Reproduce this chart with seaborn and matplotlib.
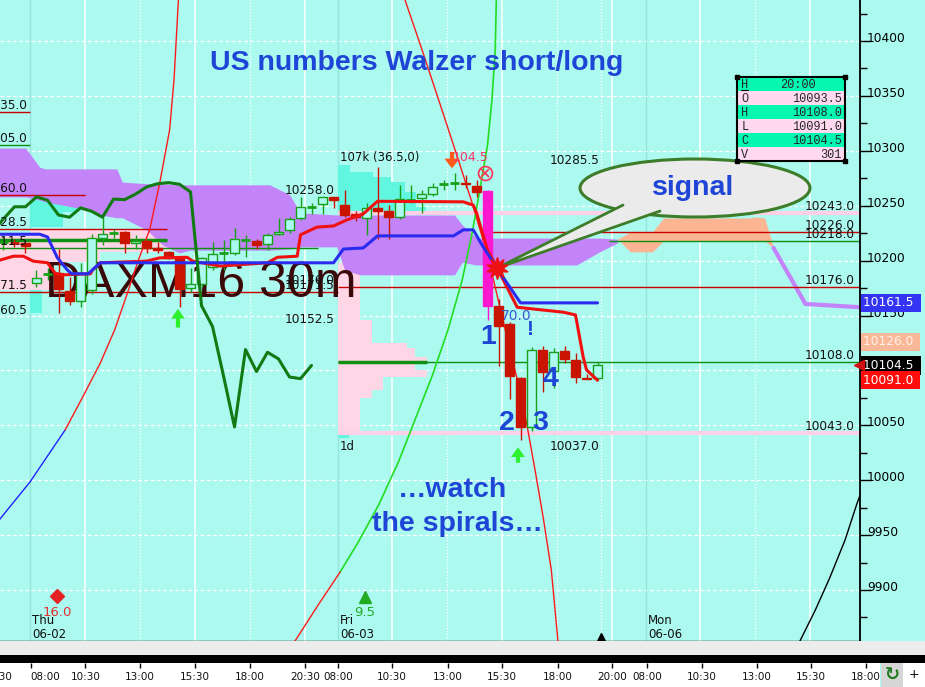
"""DAXM16 30m - Ichimoku + spirals"""

import numpy as np
import pandas as pd
import matplotlib
matplotlib.use('Agg')
import matplotlib.pyplot as plt
import matplotlib.transforms as mtransforms
from matplotlib.patches import Ellipse, Polygon, Rectangle
import seaborn as sns

# ---------------- 数据 ----------------
# 30 分钟 K 线, bar 0 = 周四 08:00, bar 27 = 周五 08:00
bar_idx = np.arange(-3, 52)
opens = [10216, 10216.5, 10216, 10179.5, 10187.5, 10188.5, 10172, 10163.5, 10173, 10220.5,
         10225, 10226, 10216, 10218, 10211.5, 10208, 10203, 10175, 10178.5, 10194,
         10206, 10207, 10218.5, 10218, 10215, 10224, 10228, 10239, 10248.5, 10251.5,
         10258, 10250.5, 10242.5, 10239, 10248, 10245, 10239.5, 10255, 10257, 10260.5,
         10269.5, 10270.5, 10270.5, 10268, 10263.5, 10159, 10142, 10093.5, 10048.5, 10118.5,
         10099.5, 10118, 10109.5, 10093.5, 10093.5]
highs = [10222, 10220, 10218, 10191, 10193, 10211, 10185, 10197.5, 10224, 10239.5,
         10229, 10226.5, 10223, 10218.5, 10217, 10208.5, 10203.5, 10193, 10203.5, 10217,
         10218.5, 10229.5, 10223.5, 10219.5, 10225, 10238.5, 10240, 10258, 10252, 10258,
         10258, 10264, 10245, 10252, 10285.5, 10250.5, 10269, 10269, 10264, 10271,
         10273.5, 10279.5, 10278, 10273.5, 10264, 10165, 10144, 10094, 10121, 10122,
         10120, 10122.5, 10116, 10097, 10108]
lows = [10210, 10212, 10207, 10176, 10182, 10152.5, 10160, 10158, 10170, 10214,
        10221, 10207, 10211, 10206.5, 10206.5, 10201, 10157.5, 10171.5, 10176, 10191.5,
        10191.5, 10205, 10203.5, 10211, 10209.5, 10223, 10225, 10237, 10242.5, 10242.5,
        10247.5, 10240, 10236, 10223.5, 10219.5, 10219.5, 10238, 10252, 10243, 10259,
        10264.5, 10264.5, 10266, 10258, 10146, 10104, 10074, 10037, 10045, 10080.5,
        10084, 10106.5, 10088.5, 10092, 10091]
closes = [10216.5, 10216, 10213, 10184, 10188, 10174, 10163, 10189, 10220.5, 10224,
          10225.5, 10216, 10218, 10211.5, 10209.5, 10202.5, 10174, 10178.5, 10202.5, 10206,
          10206.5, 10219.5, 10219, 10214, 10223.5, 10226, 10238, 10249, 10249, 10258,
          10255, 10241.5, 10239.5, 10248, 10245, 10239.5, 10256, 10255.5, 10260.5, 10267,
          10270, 10271, 10269.5, 10262.5, 10159, 10140, 10095, 10048.5, 10119, 10099,
          10116.5, 10110.5, 10094, 10092.5, 10104.5]
signal_bar = 41

# Ichimoku 线
tenkan_x = [-2.8, -1.6, -0.7, 0.2, 1.5, 2.2, 2.8, 5.4, 5.6, 6.3, 10.5, 11.7, 14.2, 14.7, 17.2,
            21.5, 22.4, 24.2, 24.5, 26.0, 27.5, 28.7, 30.2, 31.5, 39.3, 40.2, 40.5, 41.5, 42.0,
            44.2, 48.4, 49.5, 50.2, 50.5, 51.5]
tenkan_y = [10200.5, 10204, 10204, 10199.5, 10198, 10188.5, 10187, 10188, 10191.5, 10198,
            10199.5, 10202.5, 10203, 10199.5, 10195, 10198, 10203, 10204, 10223.5, 10230.5,
            10231.5, 10237, 10242.5, 10254, 10253.5, 10250.5, 10243.5, 10209.5, 10200.5,
            10157.5, 10153, 10150.5, 10112, 10100.5, 10091]
kijun_x = [-2.8, 0.8, 1.5, 2.4, 3.3, 3.7, 5.2, 6.3, 27.5, 28.4, 30.2, 31.5, 38.4, 39.3, 40.2,
           41.1, 42.9, 44.5, 51.5]
kijun_y = [10224, 10224, 10221.5, 10202.5, 10191.5, 10188, 10188, 10198, 10198, 10210.5,
           10211.5, 10222.5, 10222.5, 10228, 10228, 10212.5, 10185, 10161.5, 10161.5]

# 云
cloud_x = [-2.9, -0.5, 0.8, 1.3, 4.2, 6.3, 7.8, 8.3, 10.5, 12.0, 13.5, 14.5, 21.7, 23.5,
           24.5, 27.8, 28.5, 29.9, 38.5, 39.2, 40.5, 49.6, 51.7, 53.3]
cloud_top = [10302.5, 10302.5, 10285, 10283.5, 10283.5, 10283.5, 10283.5, 10271.5, 10270,
             10270, 10269, 10269, 10269, 10260, 10243.5, 10241.5, 10241.5, 10241.5, 10241.5,
             10232.5, 10220.5, 10220.5, 10220.5, 10219.5]
cloud_bot = [10258, 10258, 10255, 10253.5, 10248, 10241.5, 10239, 10239, 10228, 10214,
             10207, 10209.5, 10209.5, 10210.5, 10212.5, 10212.5, 10191.5, 10187, 10187,
             10198.5, 10196, 10196, 10208, 10216]
salmon_x = [53.3, 54.5, 56.5, 57.5, 65.1, 66.0, 66.7, 67.5]
salmon_top = [10219.5, 10226, 10226, 10238.8, 10238.8, 10239.7, 10238.8, 10211.5]
salmon_bot = [10219.5, 10208, 10208, 10218, 10218, 10218, 10218, 10211.5]
future_x = [67.5, 70.4, 75.4]
future_y = [10211.5, 10160.5, 10157.5]

# 成交量分布 (left, low, high, width)
pink_left = [-2.9, -0.1, -0.1, -0.1, -0.1, 27.9, 27.9, 27.9, 27.9, 27.9, 27.9, 27.9, 27.9, 27.9, 27.9]
pink_lo = [10173.2, 10218.7, 10207.8, 10198.7, 10173.2, 10145.9, 10125.0, 10120.4, 10112.2,
           10107.6, 10100.3, 10094.0, 10082.1, 10074.8, 10043.0]
pink_hi = [10225.0, 10228.8, 10218.7, 10207.8, 10198.7, 10197.8, 10145.9, 10125.0, 10120.4,
           10112.2, 10107.6, 10100.3, 10094.0, 10082.1, 10074.8]
pink_w = [2.8, 12.3, 12.7, 6.4, 1.8, 2.0, 3.1, 6.3, 7.0, 8.1, 7.0, 8.1, 4.1, 3.1, 2.0]
aqua_left = [-0.1, -0.1, -0.1, 27.9, 27.9, 27.9, 27.9, 27.9, 27.9, 27.9]
aqua_lo = [10244.2, 10230.6, 10152.2, 10280.7, 10276.1, 10271.5, 10262.4, 10248.8, 10244.2, 10038.4]
aqua_hi = [10255.2, 10244.2, 10173.2, 10287.0, 10280.7, 10276.1, 10271.5, 10262.4, 10248.8, 10043.0]
aqua_w = [4.3, 3.0, 1.1, 1.1, 3.2, 4.8, 6.1, 7.1, 8.0, 1.0]

# 水平价位线
level_price = [10335.0, 10305.0, 10260.0, 10228.5, 10218.7, 10211.5, 10171.5, 10243.0,
               10226.0, 10218.0, 10176.0, 10108.0, 10108.0, 10043.0]
level_x0 = [-2.9, -2.9, -2.9, -2.9, -2.9, -2.9, -2.9, 27.9, 41.5, 52.5, 27.9, 27.9, 27.9, 27.9]
level_x1 = [-0.1, -0.1, 4.9, 12.4, 12.4, 26.1, 27.9, 75.4, 75.4, 75.4, 75.4, 75.4, 36.0, 75.4]
level_kind = ['r', 'g', 'r', 'r', 'G', 'g', 'r', 'p', 'r', 'g', 'r', 'g', 'G', 'p']

label_text = ['10335.0', '10305.0', '10260.0', '10228.5', '10211.5', '10171.5', '10160.5',
              '10258.0', '10176.0', '10171.5', '10152.5', '10285.5', '10037.0',
              '10243.0', '10226.0', '10218.0', '10176.0', '10108.0', '10043.0']
label_x = [-0.3] * 7 + [27.6] * 4 + [51.7] * 2 + [74.9] * 6
label_price = [10335.0, 10305.0, 10260.0, 10228.5, 10211.5, 10171.5, 10160.5,
               10258.0, 10176.0, 10171.5, 10152.5, 10285.5, 10037.0,
               10243.0, 10226.0, 10218.0, 10176.0, 10108.0, 10043.0]
label_va = ['bottom'] * 6 + ['top'] + ['bottom'] * 3 + ['top', 'bottom', 'top'] + ['bottom'] * 6

# 螺旋线
spiral_blue_x = [-3.2, -0.1, 3.1]
spiral_blue_y = [9960.0, 9998.3, 10045.7]
spiral_red1_x = [3.1, 4.7, 6.3, 7.6, 8.8, 9.7, 10.8, 11.7, 12.6, 13.0, 13.4, 13.5]
spiral_red1_y = [10045.7, 10075.8, 10106.7, 10136.8, 10171.4, 10198.7, 10228.7, 10270.6,
                 10318.9, 10364.4, 10437.3, 10455.5]
spiral_red2_x = [33.8, 34.0, 35.4, 36.7, 37.9, 39.0, 40.1, 41.1, 42.0, 42.8, 43.6, 44.5,
                 45.2, 45.9, 46.6, 47.3, 47.9, 48.1]
spiral_red2_y = [10451.0, 10437.3, 10396.3, 10357.2, 10320.7, 10287.0, 10252.4, 10218.7,
                 10184.1, 10150.4, 10115.8, 10080.3, 10043.9, 10004.7, 9963.7, 9918.2,
                 9853.6, 9836.2]
spiral_green_x = [42.4, 42.3, 42.2, 41.9, 41.5, 40.8, 40.1, 39.2, 37.9, 36.5, 34.9, 33.4,
                  31.6, 29.7, 28.1]
spiral_green_y = [10451.0, 10437.3, 10391.8, 10346.2, 10305.2, 10264.3, 10225.1, 10182.3,
                  10136.8, 10095.8, 10054.8, 10016.6, 9977.4, 9942.8, 9916.4]
spiral_red3_x = [28.1, 26.1, 24.0, 23.4]
spiral_red3_y = [9916.4, 9886.3, 9853.6, 9843.5]
spiral_black_x = [69.5, 69.9, 71.3, 72.6, 74.0, 75.1, 75.5]
spiral_black_y = [9845.0, 9853.6, 9881.8, 9910.9, 9945.5, 9979.2, 9990.0]

# 坐标轴
price_ticks = list(range(9900, 10401, 50))
vgrid_solid = [4.9, 14.9, 24.9, 32.8, 42.8, 52.8, 60.8, 70.8]
vgrid_dotted = [9.9, 19.9, 37.8, 47.8, 51.8, 65.8]
session_lines = [-0.1, 27.9, 55.9]
time_ticks = [0.0, 4.95, 9.9, 14.9, 19.9, 24.9, 27.9, 32.8, 37.9, 42.8, 47.9, 52.8, 56.0,
              61.0, 66.0, 70.9, 75.9]
time_label_x = [-3.1, 1.3, 4.95, 9.9, 14.9, 19.9, 24.9, 27.9, 32.8, 37.9, 42.8, 47.9, 52.8,
                56.0, 61.0, 66.0, 70.9, 75.9]
time_labels = ['20:30', '08:00', '10:30', '13:00', '15:30', '18:00', '20:30', '08:00', '10:30',
               '13:00', '15:30', '18:00', '20:00', '08:00', '10:30', '13:00', '15:30', '18:00']
day_x = [0.1, 28.1, 56.1]
day_labels = ['Thu\n06-02', 'Fri\n06-03', 'Mon\n06-06']

tag_price = [10161.5, 10126.0, 10104.5, 10091.0]
ohlc_rows = [('H', '20:00'), ('O', '10093.5'), ('H', '10108.0'), ('L', '10091.0'),
             ('C', '10104.5'), ('V', '301')]

# ---------------- 颜色 ----------------
BG = '#acf9f0'
PURPLE = '#c284f8'
SALMON = '#fbb592'
PINK = '#ffd6e6'
AQUA = '#60f6e0'
RED = '#c81400'
GREEN = '#18a018'
MAGENTA = '#ff18d0'
TEXT_BLUE = '#1f45d6'
kind_color = {'r': '#c80000', 'g': '#109010', 'G': '#109010', 'p': '#ffd0e6'}
kind_lw = {'r': 1.0, 'g': 1.0, 'G': 2.5, 'p': 3.0}

sns.set_style('white', rc={'axes.facecolor': BG, 'figure.facecolor': BG})
plt.rcParams['font.family'] = ['DejaVu Sans']

fig = plt.figure(figsize=(9.25, 6.87), dpi=100)
ax = fig.add_axes([0, 46 / 687, 860 / 925, 641 / 687])
ax.set_facecolor(BG)

# 网格
for p in price_ticks:
    ax.axhline(p, color='white', lw=0.9, ls=(0, (3, 2)), zorder=0.6)
for x in vgrid_solid:
    ax.axvline(x, color='white', lw=1.1, zorder=0.6)
for x in vgrid_dotted:
    ax.axvline(x, color='white', lw=0.9, ls=(0, (1, 1.5)), zorder=0.6)
for x in session_lines:
    ax.axvline(x, color='#97e4dc', lw=1.0, zorder=0.6)

# 成交量分布
ax.barh(pink_lo, pink_w, height=np.subtract(pink_hi, pink_lo), left=pink_left,
        align='edge', color=PINK, lw=0, zorder=1)
ax.barh(aqua_lo, aqua_w, height=np.subtract(aqua_hi, aqua_lo), left=aqua_left,
        align='edge', color=AQUA, lw=0, zorder=1)

# 云
ax.fill_between(cloud_x, cloud_bot, cloud_top, color=PURPLE, lw=0, zorder=2)
ax.fill_between(salmon_x, salmon_bot, salmon_top, color=SALMON, lw=0, zorder=2)
sns.lineplot(x=future_x, y=future_y, ax=ax, color=PURPLE, lw=3, sort=False,
             estimator=None, zorder=2)

# 价位线和标签
ax.hlines(level_price, level_x0, level_x1, colors=[kind_color[k] for k in level_kind],
          linewidths=[kind_lw[k] for k in level_kind], zorder=2.5)
for t, x, p, va in zip(label_text, label_x, label_price, label_va):
    ax.text(x, p, t, ha='right', va=va, fontsize=8.7, color='#111111', zorder=7)

ax.text(1.27, 10166.8, 'DAXM16 30m', fontsize=36, family='Liberation Sans',
        color='#3a0808', ha='left', va='baseline', zorder=3)

# 螺旋线
for xs, ys, c, lw in [(spiral_blue_x, spiral_blue_y, '#2222ff', 1.0),
                      (spiral_red1_x, spiral_red1_y, '#ff1a1a', 1.0),
                      (spiral_red2_x, spiral_red2_y, '#ff1a1a', 1.0),
                      (spiral_green_x, spiral_green_y, '#22dd22', 1.2),
                      (spiral_red3_x, spiral_red3_y, '#ff1a1a', 1.0),
                      (spiral_black_x, spiral_black_y, '#000000', 1.0)]:
    sns.lineplot(x=xs, y=ys, ax=ax, color=c, lw=lw, sort=False, estimator=None, zorder=4)

# K 线
df = pd.DataFrame({'idx': bar_idx, 'open': opens, 'high': highs, 'low': lows, 'close': closes})
df['x'] = df['idx'] + 0.5
df['up'] = df['close'] >= df['open']
df['doji'] = (df['close'] - df['open']).abs() < 1.0
df['color'] = np.where(df['up'], GREEN, RED)
df.loc[df['idx'] == signal_bar, 'color'] = MAGENTA

ax.vlines(df['x'], df['low'], df['high'], colors=df['color'], lw=1, zorder=5)
body = df[~df['doji']]
ax.bar(body['x'], (body['close'] - body['open']).abs(),
       bottom=body[['open', 'close']].min(axis=1), width=0.78,
       color=[BG if u else c for u, c in zip(body['up'], body['color'])],
       edgecolor=body['color'], linewidth=1, zorder=5.1)
doji = df[df['doji']]
ax.hlines(doji['close'], doji['x'] - 0.4, doji['x'] + 0.4, colors=doji['color'], lw=2,
          zorder=5.1)

# Ichimoku 线
sns.lineplot(x=tenkan_x, y=tenkan_y, ax=ax, color='#f01010', lw=2.2, sort=False,
             estimator=None, zorder=6)
sns.lineplot(x=kijun_x, y=kijun_y, ax=ax, color='#2b2bf0', lw=2.2, sort=False,
             estimator=None, zorder=6)
chikou = df[df['idx'] >= 22]
sns.lineplot(x=chikou['x'] - 26, y=chikou['close'], ax=ax, color='#127a12', lw=2.2,
             sort=False, estimator=None, zorder=6)

# 标记
arrow_up = dict(facecolor='#2ef02e', edgecolor='none', width=3, headwidth=10, headlength=7, shrink=0)
ax.annotate('', xy=(13.36, 10156), xytext=(13.36, 10139), arrowprops=arrow_up, zorder=7)
ax.annotate('', xy=(44.27, 10030), xytext=(44.27, 10016), arrowprops=arrow_up, zorder=7)
ax.annotate('', xy=(38.27, 10284), xytext=(38.27, 10299),
            arrowprops=dict(facecolor='#ff5a1a', edgecolor='none', width=3, headwidth=11,
                            headlength=7, shrink=0), zorder=7)
ax.plot(41.27, 10279.7, marker='o', ms=10, mfc='none', mec='#ff3355', mew=1.2, zorder=7)
ax.plot(41.27, 10279.7, marker='x', ms=6, mec='#ff3355', mew=1.2, zorder=7)
ax.text(40.0, 10294.3, '104.5', color='#ff3366', fontsize=9, ha='center', va='center', zorder=7)
ax.text(28.1, 10294.3, '107k (36.5,0)', color='#111111', fontsize=8.5, ha='left',
        va='center', zorder=7)
ax.text(28.1, 10031.1, '1d', color='#111111', fontsize=8.5, ha='left', va='center', zorder=7)

ax.plot(2.36, 9894.5, marker='D', ms=7, color='#e52222', zorder=7)
ax.text(2.36, 9880.0, '16.0', color='#e03030', fontsize=9.5, ha='center', va='center', zorder=7)
ax.plot(30.36, 9893.6, marker='^', ms=9, color='#22aa22', zorder=7)
ax.text(30.36, 9880.0, '9.5', color='#22aa22', fontsize=9.5, ha='center', va='center', zorder=7)
ax.plot(51.82, 9857.0, marker='^', ms=6, color='black', zorder=7, clip_on=False)
for x, t in zip(day_x, day_labels):
    ax.text(x, 9866.3, t, fontsize=8.5, ha='left', va='center', color='#111111',
            linespacing=1.1, zorder=7)

# 文字
bold = dict(family='Liberation Sans', weight='bold', color=TEXT_BLUE, zorder=9)
ax.text(35.09, 10379.9, 'US numbers Walzer short/long', fontsize=20.5, ha='center',
        va='center', **bold)
ax.text(38.36, 9991.1, '\u2026watch', fontsize=20.5, ha='center', va='center', **bold)
ax.text(38.73, 9960.1, 'the spirals\u2026', fontsize=20.5, ha='center', va='center', **bold)
ax.text(41.55, 10130.4, '1', fontsize=20.5, ha='center', va='center', **bold)
ax.text(43.27, 10052.1, '2', fontsize=20.5, ha='center', va='center', **bold)
ax.text(46.27, 10052.1, '3', fontsize=20.5, ha='center', va='center', **bold)
ax.text(47.18, 10092.1, '4', fontsize=20.5, ha='center', va='center', **bold)
ax.text(45.45, 10136.8, '!', fontsize=15, ha='center', va='center', **bold)
ax.text(44.09, 10149.5, '70.0', fontsize=10, color='#3a5ad0', ha='center', va='center', zorder=9)

# 气泡
ax.add_patch(Ellipse((60.36, 10266.1), 20.9, 52.8, fc='#ebebeb', ec='#3d7d2a', lw=2.2, zorder=8))
tail = [(53.82, 10250.6), (42.36, 10193.2), (57.18, 10245.1)]
ax.add_patch(Polygon(tail, closed=True, fc='#ebebeb', ec='none', zorder=8.1))
ax.plot([tail[0][0], tail[1][0], tail[2][0]], [tail[0][1], tail[1][1], tail[2][1]],
        color='#3d7d2a', lw=2.0, zorder=8.2)
ax.plot(42.36, 10193.2, marker=(10, 1, 0), ms=16, color='#ee1111', zorder=8.3)
ax.text(60.18, 10266.1, 'signal', fontsize=20.5, ha='center', va='center', **bold)

# 右侧价格轴
ax.yaxis.tick_right()
ax.set_yticks(price_ticks)
ax.set_yticklabels([str(p) for p in price_ticks])
ax.set_yticks(list(range(9875, 10426, 50)), minor=True)
ax.tick_params(axis='y', which='major', direction='out', length=8, width=1, colors='black',
               labelsize=8.8, pad=-3, right=True, left=False)
ax.tick_params(axis='y', which='minor', direction='out', length=5, width=1, colors='black',
               right=True, left=False)
offset = mtransforms.ScaledTranslation(0, 0.04, fig.dpi_scale_trans)
for lbl in ax.get_yticklabels():
    lbl.set_transform(lbl.get_transform() + offset)
ax.set_xticks([])
ax.set_xlabel('')
ax.set_ylabel('')
for side in ['top', 'left']:
    ax.spines[side].set_visible(False)
ax.spines['right'].set_color('black')
ax.spines['right'].set_linewidth(1.3)
ax.spines['bottom'].set_color('black')
ax.spines['bottom'].set_linewidth(1.0)

tag_bg = ['#3434f4', '#f9b898', '#000000', '#ff0c0c']
tag_fg = ['white', '#fff2e6', 'white', 'white']
for p, bg, fg in zip(tag_price, tag_bg, tag_fg):
    ax.text(1.004, p, f'{p:.1f} ', transform=ax.get_yaxis_transform(), ha='left', va='center',
            fontsize=8.8, color=fg, clip_on=False, zorder=10,
            bbox=dict(boxstyle='square,pad=0.22', fc=bg, ec='none'))
ax.plot(75.25, 10104.5, marker='<', ms=7, color='#d01010', clip_on=False, zorder=10)

ax.set_xlim(-2.818, 75.36)
ax.set_ylim(9853.6, 10437.3)

# 底部
fig.patches.append(Rectangle((0, 32 / 687), 1, 14 / 687, transform=fig.transFigure,
                             fc='#ececec', ec='none', zorder=0))
fig.patches.append(Rectangle((0, 24 / 687), 1, 8 / 687, transform=fig.transFigure,
                             fc='black', ec='none', zorder=0))
fig.patches.append(Rectangle((881 / 925, 0), 22 / 925, 24 / 687, transform=fig.transFigure,
                             fc='#d6d6d6', ec='none', zorder=0))
fig.patches.append(Rectangle((903 / 925, 0), 22 / 925, 24 / 687, transform=fig.transFigure,
                             fc='white', ec='none', zorder=0))
fig.text(892 / 925, 12 / 687, '\u21bb', color='#1e7a1e', fontsize=13, weight='bold',
         ha='center', va='center')
fig.text(914 / 925, 12 / 687, '+', color='black', fontsize=9, ha='center', va='center')

ax_t = fig.add_axes([0, 0, 880 / 925, 24 / 687])
ax_t.set_facecolor('white')
ax_t.set_xlim(-2.818, 77.18)
ax_t.set_ylim(0, 1)
ax_t.axis('off')
ax_t.add_patch(Rectangle((0, 0), 1, 1, transform=ax_t.transAxes, fc='white', ec='none'))
ax_t.vlines(time_ticks, 0.78, 1.0, colors='black', lw=1)
for x, t in zip(time_label_x, time_labels):
    ax_t.text(x, 0.4, t, fontsize=7.5, ha='center', va='center', color='#111111')

# OHLC 信息框
ax_b = fig.add_axes([737 / 925, 1 - 161 / 687, 108 / 925, 84 / 687])
ax_b.set_xlim(0, 1)
ax_b.set_ylim(6, 0)
for r, (k, v) in enumerate(ohlc_rows):
    ax_b.axhspan(r, r + 1, color='#05f8b2' if r % 2 == 0 else '#ffd9f0', lw=0)
    ax_b.text(0.04, r + 0.55, k, family='Liberation Mono', fontsize=8.6, ha='left', va='center')
    if r == 0:
        ax_b.text(0.56, r + 0.55, v, family='Liberation Mono', fontsize=8.6, ha='center',
                  va='center')
    else:
        ax_b.text(0.97, r + 0.55, v, family='Liberation Mono', fontsize=8.6, ha='right',
                  va='center')
ax_b.plot([0.035, 0.1], [0.92, 0.92], color='black', lw=0.8)
ax_b.plot([0, 1, 0, 1], [0, 0, 6, 6], 's', ms=3, color='black', clip_on=False)
ax_b.set_xticks([])
ax_b.set_yticks([])
for s in ax_b.spines.values():
    s.set_visible(True)
    s.set_color('black')
    s.set_linewidth(1.5)

fig.savefig('out.png', dpi=100, facecolor=BG)
